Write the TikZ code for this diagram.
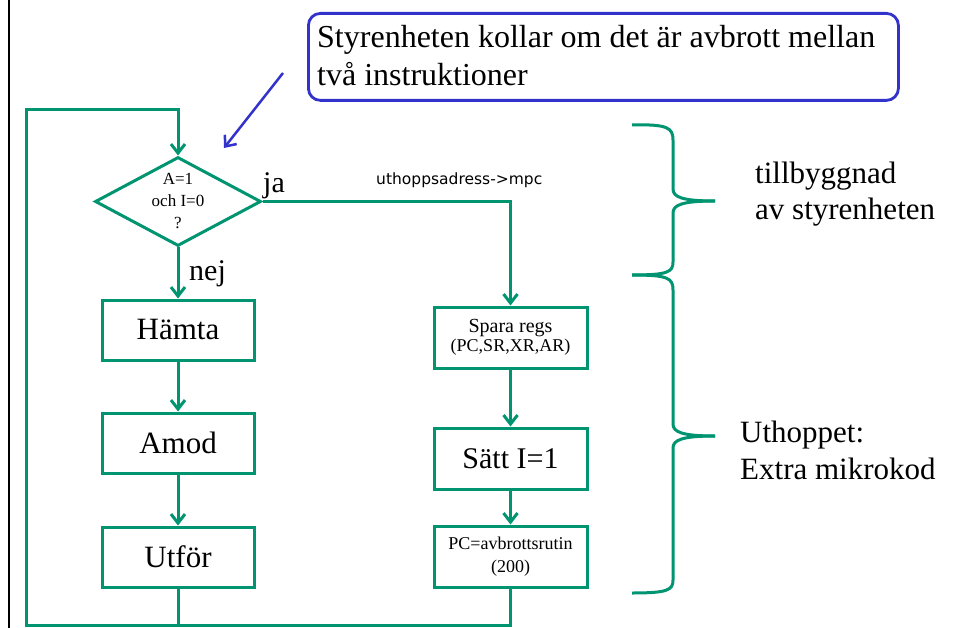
\documentclass[tikz,border=0pt]{standalone}
\usepackage{fontspec}
\setmainfont{Liberation Serif}
\newfontfamily\sansf{DejaVu Sans}
\usetikzlibrary{shapes.geometric,arrows.meta}
\definecolor{grn}{RGB}{0,148,112}
\definecolor{blu}{RGB}{51,51,204}
\tikzset{
  flow/.style={draw=grn, line width=3pt},
  box/.style={flow, rectangle, minimum width=152pt, minimum height=60pt, inner sep=0pt, align=center},
  bigtxt/.style={font=\fontsize{31}{36}\selectfont},
  arr/.style={flow, -{Straight Barb[length=9pt,width=14pt]}},
  lbl/.style={anchor=base west, inner sep=0pt},
  brace/.style={draw=grn, line width=3pt}
}
\begin{document}
\begin{tikzpicture}[x=1pt,y=1pt]
\useasboundingbox (0,0) rectangle (955,-628);
% black margin line
\coordinate (m1) at (9,0);
\coordinate (m2) at (9,-628);
\draw[black, line width=2.2pt] (m1) -- (m2);

% top note
\node[draw=blu, line width=2.8pt, rounded corners=12pt, anchor=north west,
      minimum width=590pt, minimum height=87pt, inner sep=0pt] (note) at (307,-12) {};
\node[lbl, font=\fontsize{32}{38}\selectfont] (n1) at (317,-48) {Styrenheten kollar om det är avbrott mellan};
\node[lbl, font=\fontsize{32}{38}\selectfont] (n2) at (317,-86) {två instruktioner};
\coordinate (bs) at (283,-73);
\coordinate (be) at (224,-148);
\draw[draw=blu, line width=2.5pt, -{Straight Barb[length=9pt,width=15pt]}] (bs) -- (be);

% decision
\node[flow, diamond, shape aspect=1.87, minimum width=166pt, minimum height=89pt,
      inner sep=0pt, align=center, font=\fontsize{17}{22}\selectfont] (d) at (178,-201.5)
      {A=1\\och I=0\\?};

% left column
\node[box, bigtxt] (hamta) at (178,-330) {Hämta};
\node[box, bigtxt] (amod) at (178,-443) {Amod};
\node[box, bigtxt] (utfor) at (178,-557) {Utför};

% right column
\node[box, minimum width=153pt, minimum height=61pt] (spara) at (510.5,-337.5)
  {{\fontsize{20}{24}\selectfont Spara regs}\\[1pt]{\fontsize{18}{22}\selectfont (PC,SR,XR,AR)}};
\node[box, minimum width=153pt, minimum height=61pt, font=\fontsize{30}{36}\selectfont] (satt) at (510.5,-458.5) {Sätt I=1};
\node[box, minimum width=153pt, minimum height=61pt, font=\fontsize{18}{23}\selectfont] (pc) at (510.5,-556.5)
  {PC=avbrottsrutin\\(200)};

% labels
\node[lbl, font=\fontsize{30}{36}\selectfont] (ja) at (263,-193) {ja};
\node[lbl, font=\fontsize{30}{36}\selectfont] (nej) at (189,-280) {nej};
\node[lbl, font=\sansf\fontsize{15.5}{18}\selectfont] (uth) at (376,-185) {uthoppsadress->mpc};

% connectors
\coordinate (tl) at (26,-110);
\coordinate (bl) at (26,-625);
\draw[arr] (d.south) -- (hamta.north);
\draw[arr] (hamta.south) -- (amod.north);
\draw[arr] (amod.south) -- (utfor.north);
\draw[arr] (utfor.south) |- (bl) -- (tl) -| (d.north);
\draw[arr] (d.east) -| (spara.north);
\draw[arr] (spara.south) -- (satt.north);
\draw[arr] (satt.south) -- (pc.north);
\draw[flow] (pc.south) |- (bl);

% braces
\draw[brace] (632,-125) .. controls (668,-124) and (673,-128) .. (673,-140) -- (673,-189)
  .. controls (673,-197) and (682,-201) .. (715,-201);
\draw[brace] (715,-201) .. controls (682,-201) and (673,-205) .. (673,-213) -- (673,-262)
  .. controls (673,-272) and (668,-275) .. (632,-275);
\draw[brace] (632,-275) .. controls (668,-275) and (673,-278) .. (673,-290) -- (673,-424)
  .. controls (673,-432) and (682,-436) .. (715,-436);
\draw[brace] (715,-436) .. controls (682,-436) and (673,-440) .. (673,-448) -- (673,-580)
  .. controls (673,-590) and (668,-593) .. (632,-593);

\node[lbl, bigtxt] (t1) at (755,-184) {tillbyggnad};
\node[lbl, bigtxt] (t2) at (755,-220) {av styrenheten};
\node[lbl, bigtxt] (u1) at (740,-442) {Uthoppet:};
\node[lbl, bigtxt] (u2) at (740,-479) {Extra mikrokod};
\end{tikzpicture}
\end{document}
